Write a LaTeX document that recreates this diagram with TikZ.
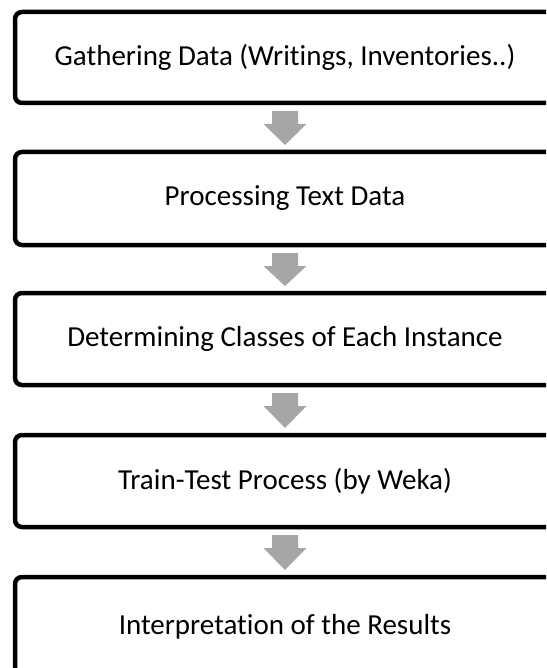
\documentclass[tikz,border=0pt]{standalone}
\usepackage{fontspec}
\setmainfont[Ligatures=NoCommon]{Carlito}
\usetikzlibrary{calc}
\definecolor{arrowgray}{HTML}{A6A6A6}
\tikzset{
  stepbox/.style={draw=black, line width=4.5pt, rounded corners=7pt, fill=white,
    minimum width=540pt, minimum height=92pt, inner sep=0pt, outer sep=0pt,
    font=\fontsize{29}{35}\selectfont},
  blockarrow/.style={fill=arrowgray, draw=none}
}
\newcommand{\blockarr}[2]{%
  \fill[blockarrow] ($(#1.south)+(-13,8)$) -- ($(#1.south)+(13,8)$) -- ($(#1.south)+(13,21)$)
    -- ($(#1.south)+(21.5,21)$) -- ($(#2.north)+(0,-7)$) -- ($(#1.south)+(-21.5,21)$)
    -- ($(#1.south)+(-13,21)$) -- cycle;}
\begin{document}
\begin{tikzpicture}[x=1pt,y=-1pt]
\useasboundingbox (0,0) rectangle (546,668);
\clip (0,0) rectangle (546,668);
\node[stepbox, minimum height=91pt] (b1) at (285,57.5) {Gathering Data (Writings, Inventories..)};
\node[stepbox, minimum height=93pt] (b2) at (285,198.5) {Processing Text Data};
\node[stepbox] (b3) at (285,339) {Determining Classes of Each Instance};
\node[stepbox] (b4) at (285,481) {Train-Test Process (by Weka)};
\node[stepbox, minimum height=100pt] (b5) at (285,627) {\raisebox{4pt}{Interpretation of the Results}};
\blockarr{b1}{b2}
\blockarr{b2}{b3}
\blockarr{b3}{b4}
\blockarr{b4}{b5}
\end{tikzpicture}
\end{document}
